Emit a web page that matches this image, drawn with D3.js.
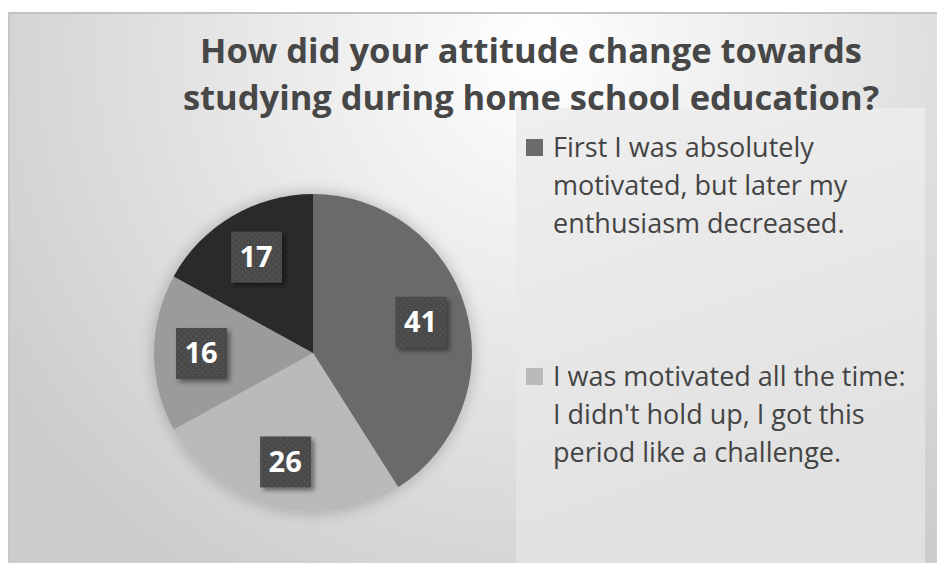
<!DOCTYPE html>
<html>
<head>
<meta charset="utf-8">
<script src="https://d3js.org/d3.v7.min.js"></script>
<style>
  body { margin: 0; background: #fff; }
  svg text { font-family: "Open Sans", sans-serif; }
</style>
</head>
<body>
<div id="chart"></div>
<script>
// chart data
const values = [41, 26, 16, 17];
const sliceColors = ["#6b6b6b", "#bababa", "#9b9b9b", "#2b2b2b"];
// only the first two legend entries are visible in the picture
const legendLabels = [
  ["First I was absolutely", "motivated, but later my", "enthusiasm decreased."],
  ["I was motivated all the time:", "I didn't hold up, I got this", "period like a challenge."]
];
const titleLines = ["How did your attitude change towards", "studying during home school education?"];

const W = 937, H = 563;
const svg = d3.select("#chart").append("svg")
  .attr("width", W).attr("height", H);

const defs = svg.append("defs");

// background gradient
const bg = defs.append("radialGradient").attr("id", "bg")
  .attr("gradientUnits", "userSpaceOnUse")
  .attr("cx", 540).attr("cy", 50).attr("r", 620);
bg.append("stop").attr("offset", "0").attr("stop-color", "#ffffff");
bg.append("stop").attr("offset", "1").attr("stop-color", "#cdcdcd");

const lg = defs.append("linearGradient").attr("id", "lg")
  .attr("x1", 0).attr("y1", 0).attr("x2", 0.3).attr("y2", 1);
lg.append("stop").attr("offset", "0").attr("stop-color", "#efefef");
lg.append("stop").attr("offset", "1").attr("stop-color", "#e0e0e0");

// soft glow under the pie
const glow = defs.append("filter").attr("id", "glow")
  .attr("x", "-20%").attr("y", "-20%").attr("width", "140%").attr("height", "140%");
glow.append("feGaussianBlur").attr("in", "SourceAlpha").attr("stdDeviation", 8).attr("result", "b");
glow.append("feComponentTransfer").attr("in", "b").attr("result", "c")
  .append("feFuncA").attr("type", "linear").attr("slope", 0.25);
const gm = glow.append("feMerge");
gm.append("feMergeNode").attr("in", "c");
gm.append("feMergeNode").attr("in", "SourceGraphic");

const shadow = defs.append("filter").attr("id", "shadow")
  .attr("x", "-30%").attr("y", "-30%").attr("width", "170%").attr("height", "170%");
shadow.append("feDropShadow").attr("dx", 3).attr("dy", 3).attr("stdDeviation", 2.5)
  .attr("flood-color", "#000").attr("flood-opacity", 0.45);

// dotted label fill
const pat = defs.append("pattern").attr("id", "dots")
  .attr("patternUnits", "userSpaceOnUse").attr("width", 6).attr("height", 6);
pat.append("rect").attr("width", 6).attr("height", 6).attr("fill", "#484848");
pat.append("circle").attr("cx", 1.5).attr("cy", 1.5).attr("r", 0.9).attr("fill", "#5c5c5c");
pat.append("circle").attr("cx", 4.5).attr("cy", 4.5).attr("r", 0.9).attr("fill", "#5c5c5c");

// chart area
svg.append("rect").attr("x", 8).attr("y", 12).attr("width", W - 8).attr("height", H - 12)
  .attr("fill", "url(#bg)");
svg.append("line").attr("x1", 8).attr("x2", W).attr("y1", 13).attr("y2", 13)
  .attr("stroke", "#c2c2c2").attr("stroke-width", 2);
svg.append("line").attr("x1", 9).attr("x2", 9).attr("y1", 12).attr("y2", H)
  .attr("stroke", "#c8c8c8").attr("stroke-width", 2);

// legend panel
svg.append("rect").attr("x", 516).attr("y", 108).attr("width", 409).attr("height", H - 108)
  .attr("fill", "url(#lg)");

// title
svg.append("g").selectAll("text").data(titleLines).join("text")
  .attr("x", 531)
  .attr("y", (d, i) => 63 + i * 47)
  .attr("text-anchor", "middle")
  .attr("font-size", 34.5)
  .attr("font-weight", "bold")
  .attr("fill", "#474747")
  .text(d => d);

// pie
const cx = 313, cy = 353, R = 159;
const pie = d3.pie().sort(null).value(d => d)(values);
const arc = d3.arc().innerRadius(0).outerRadius(R);
const labelArc = d3.arc().innerRadius(112).outerRadius(112);

const g = svg.append("g").attr("transform", `translate(${cx},${cy})`);
g.append("g").attr("filter", "url(#glow)")
  .selectAll("path").data(pie).join("path")
  .attr("d", arc)
  .attr("fill", (d, i) => sliceColors[i]);

const labels = g.selectAll("g.lbl").data(pie).join("g")
  .attr("class", "lbl")
  .attr("transform", d => `translate(${labelArc.centroid(d)})`);
labels.append("rect")
  .attr("x", -25).attr("y", -25).attr("width", 51).attr("height", 51)
  .attr("fill", "url(#dots)")
  .attr("filter", "url(#shadow)");
labels.append("text")
  .attr("text-anchor", "middle")
  .attr("dy", "0.36em")
  .attr("font-size", 29)
  .attr("font-weight", "bold")
  .attr("fill", "#fff")
  .text(d => d.data);

// legend
const leg = svg.append("g").selectAll("g").data(legendLabels).join("g")
  .attr("transform", (d, i) => `translate(526, ${139 + i * 229})`);
leg.append("rect").attr("width", 17).attr("height", 17)
  .attr("fill", (d, i) => sliceColors[i]);
leg.each(function (lines) {
  d3.select(this).selectAll("text").data(lines).join("text")
    .attr("x", 27)
    .attr("y", (d, i) => 18 + i * 38)
    .attr("font-size", 27)
    .attr("fill", "#444")
    .text(d => d);
});
</script>
</body>
</html>
